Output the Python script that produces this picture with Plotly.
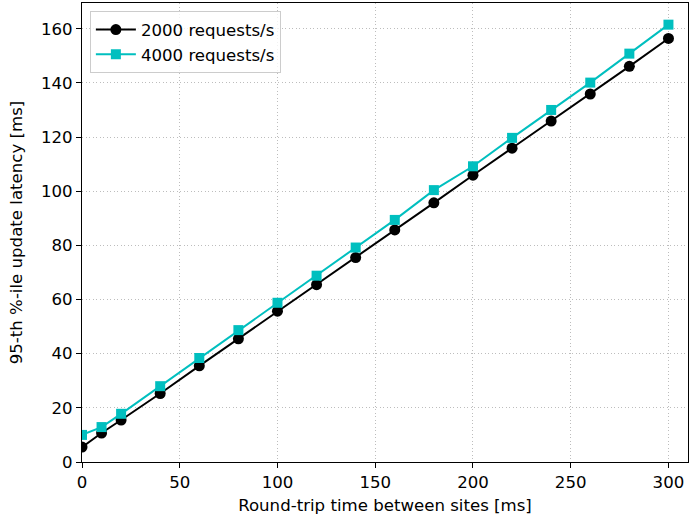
import plotly.graph_objects as go

rtt = [0, 10, 20, 40, 60, 80, 100, 120, 140, 160, 180, 200, 220, 240, 260, 280, 300]
lat_2000 = [5.5, 10.7, 15.5, 25.3, 35.5, 45.5, 55.7, 65.5, 75.5, 85.7, 95.7, 105.9, 115.9, 125.9, 135.9, 146.1, 156.4]
lat_4000 = [10.0, 12.9, 17.8, 28.0, 38.4, 48.7, 58.8, 68.8, 79.2, 89.4, 100.4, 109.2, 119.7, 130.0, 140.1, 150.8, 161.5]
x_ticks = [0, 50, 100, 150, 200, 250, 300]
y_ticks = [0, 20, 40, 60, 80, 100, 120, 140, 160]

font = "DejaVu Sans"
fs = 16.6
fig = go.Figure()
fig.add_trace(go.Scatter(x=rtt, y=lat_2000, mode="lines+markers", name="2000 requests/s",
                         line=dict(color="black", width=2),
                         marker=dict(symbol="circle", size=11, color="black")))
fig.add_trace(go.Scatter(x=rtt, y=lat_4000, mode="lines+markers", name="4000 requests/s",
                         line=dict(color="#00BFBF", width=2),
                         marker=dict(symbol="square", size=10, color="#00BFBF")))

axis_common = dict(showline=True, linecolor="black", linewidth=1.2, mirror=True,
                   ticks="outside", ticklen=5, tickwidth=1.2, tickcolor="black",
                   showgrid=True, gridcolor="#bdbdbd", griddash="1px,2.5px", gridwidth=1,
                   zeroline=False, automargin=False,
                   tickfont=dict(family=font, size=fs, color="black"))

fig.update_layout(
    template="none",
    width=689, height=521,
    margin=dict(l=82, r=1, t=3, b=59, pad=0),
    paper_bgcolor="white", plot_bgcolor="white",
    font=dict(family=font, size=fs, color="black"),
    xaxis=dict(range=[0, 310], tickvals=x_ticks,
               title=dict(text="Round-trip time between sites [ms]", font=dict(family=font, size=fs), standoff=8),
               **axis_common),
    yaxis=dict(range=[0, 169.5], tickvals=y_ticks,
               title=dict(text="95-th %-ile update latency [ms]", font=dict(family=font, size=fs), standoff=14),
               **axis_common),
    legend=dict(x=0.013, y=0.982, xanchor="left", yanchor="top",
                bgcolor="rgba(255,255,255,0.8)", bordercolor="#cccccc", borderwidth=1,
                font=dict(family=font, size=fs), itemwidth=40, tracegroupgap=2),
    showlegend=True,
)

fig.write_html("out.html", config={"displayModeBar": False},
               post_script="document.body.style.margin='0';document.body.style.padding='0';")
